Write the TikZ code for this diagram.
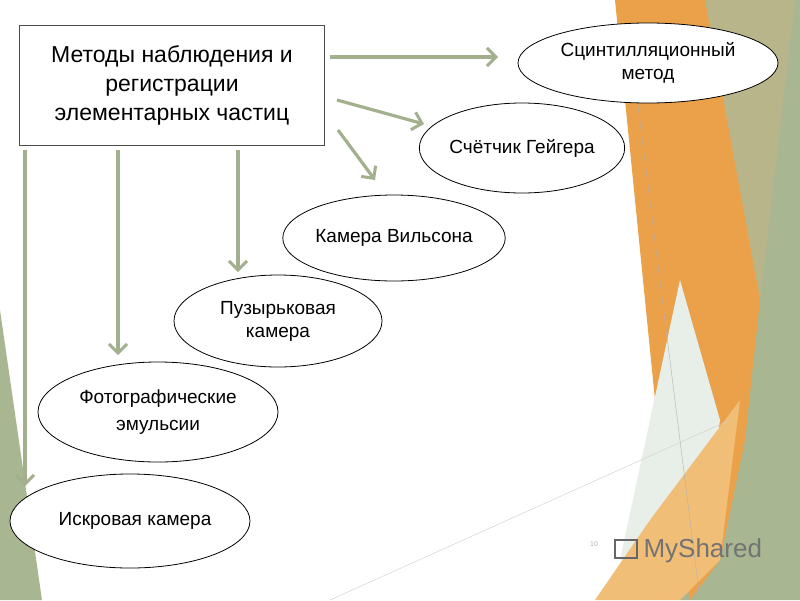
\documentclass[tikz,border=0pt]{standalone}
\usepackage{fontspec}
\setmainfont{Liberation Sans}
\usetikzlibrary{arrows.meta,shapes.geometric}
\definecolor{arr}{HTML}{A3B08E}
\definecolor{org}{HTML}{EBA04A}
\definecolor{lorg}{HTML}{F1BE78}
\definecolor{olive}{HTML}{B9B58A}
\definecolor{sage}{HTML}{A8B792}
\definecolor{mist}{HTML}{E8EEE8}
\tikzset{
 ell/.style={ellipse,draw=black,fill=white,line width=0.8pt,font=\fontsize{19}{23}\selectfont,align=center,inner sep=0pt},
 conn/.style={draw=arr,line width=3.2pt,-{Straight Barb[length=9pt,width=18pt,line width=3pt]}}
}
\begin{document}
\begin{tikzpicture}[x=1pt,y=-1pt]
\useasboundingbox (0,0) rectangle (800,600);
\fill[white] (0,0) rectangle (800,600);
% background decoration
\fill[sage] (705,0) -- (800,0) -- (800,600) -- (680,600) -- cycle;
\fill[olive] (700,0) -- (795,0) -- (760,300) -- (735,430) -- cycle;
\fill[org] (615,0) -- (705,0) -- (760,300) -- (745,440) -- (720,560) -- (690,600) -- (660,450) -- cycle;
\fill[mist] (680,280) -- (720,420) -- (700,560) -- (620,560) -- cycle;
\fill[lorg] (740,400) -- (720,560) -- (680,600) -- (595,600) -- (650,520) -- cycle;
\fill[sage] (0,310) -- (42,600) -- (0,600) -- cycle;
\draw[gray!60,line width=0.4pt] (636,90) -- (700,600);
\draw[gray!40,line width=0.4pt] (330,600) -- (730,420);
% main box
\node[draw=black!70,fill=white,line width=1pt,minimum width=305pt,minimum height=120pt,align=center,font=\fontsize{23}{29}\selectfont] (box) at (172,85)
 {Методы наблюдения и\\регистрации\\элементарных частиц};
\node[ell,minimum width=260pt,minimum height=80pt] (sc) at (648,63) {Сцинтилляционный\\метод};
\node[ell,minimum width=194pt,minimum height=90pt] (ge) at (522,148) {Счётчик Гейгера};
\node[ell,minimum width=212pt,minimum height=86pt] (wi) at (394,238) {Камера Вильсона};
\node[ell,minimum width=208pt,minimum height=92pt] (bu) at (278,321) {Пузырьковая\\камера};
\node[ell,minimum width=240pt,minimum height=100pt] (ph) at (158,412) {Фотографические\\[4pt]эмульсии};
\node[ell,minimum width=240pt,minimum height=94pt] (sp) at (130,521) {\hspace*{10pt}Искровая камера};
% arrow endpoints
\coordinate (a1s) at (330,57); \coordinate (a1e) at (498,57);
\coordinate (a2s) at (337,100); \coordinate (a2e) at (424,124);
\coordinate (a3s) at (338,130); \coordinate (a3e) at (375,180);
\coordinate (a4s) at (238,150); \coordinate (a4e) at (238,272);
\coordinate (a5s) at (118,150); \coordinate (a5e) at (118,355);
\coordinate (a6s) at (25,150); \coordinate (a6e) at (25,486);
\foreach \i in {1,...,6} {\draw[conn] (a\i s) -- (a\i e);}
\node[font=\fontsize{7}{8}\selectfont,text=gray!60] (pn) at (594,544) {10};
\node[font=\fontsize{26}{30}\selectfont,text=black!55,anchor=west] (ms) at (640,551) {MyShared};
\node[draw=black!60,line width=1.5pt,minimum width=22pt,minimum height=18pt] (lg) at (626,549) {};
\end{tikzpicture}
\end{document}
